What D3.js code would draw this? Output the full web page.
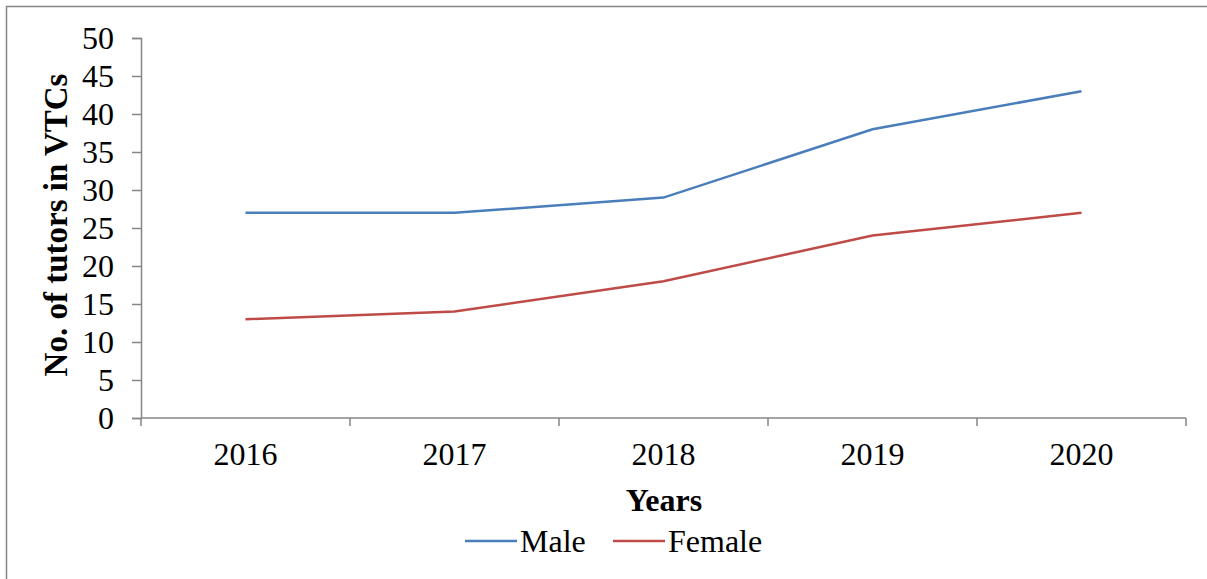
<!DOCTYPE html>
<html><head><meta charset="utf-8">
<script src="https://cdn.jsdelivr.net/npm/d3@7"></script>
<style>body{margin:0;background:#fff}svg{display:block}text{font-family:"Liberation Serif","Times New Roman",serif;fill:#000}</style>
</head><body>
<script>
const years = ["2016","2017","2018","2019","2020"];
const male = [27,27,29,38,43];
const female = [13,14,18,24,27];
const yTicks = [0,5,10,15,20,25,30,35,40,45,50];
const seriesNames = ["Male","Female"];
const colors = ["#4A7EBB","#BE4B48"];

const W=1207,H=579;
const svg=d3.select("body").append("svg").attr("width",W).attr("height",H);
// outer frame
svg.append("path").attr("d",`M6.5,${H+2}V6.5H${W+2}`).attr("fill","none").attr("stroke","#868686").attr("stroke-width",1.5);

const L=141,R=1186,T=38,B=418;
const x=d3.scaleBand().domain(years).range([L,R]);
const y=d3.scaleLinear().domain([0,50]).range([B,T]);
const axisColor="#868686";
const fs="32px";

// y axis
const ya=svg.append("g").attr("transform",`translate(${L},0)`)
  .call(d3.axisLeft(y).tickValues(yTicks).tickSize(9).tickPadding(18).tickFormat(d3.format("d")));
ya.select(".domain").attr("stroke",axisColor).attr("stroke-width",1.5);
ya.selectAll(".tick line").attr("stroke",axisColor).attr("stroke-width",1.5);
ya.selectAll(".tick text").style("font-size",fs).attr("dy","0.34em");

// x axis
const xa=svg.append("g").attr("transform",`translate(0,${B})`);
xa.append("line").attr("x1",L).attr("x2",R).attr("stroke",axisColor).attr("stroke-width",1.5);
const bounds=years.map(d=>x(d)).concat([x(years[years.length-1])+x.bandwidth()]);
xa.selectAll("line.tk").data(bounds).enter().append("line").attr("class","tk")
  .attr("x1",d=>d).attr("x2",d=>d).attr("y1",0).attr("y2",8).attr("stroke",axisColor).attr("stroke-width",1.5);
xa.selectAll("text").data(years).enter().append("text")
  .attr("x",d=>x(d)+x.bandwidth()/2).attr("y",47).attr("text-anchor","middle")
  .style("font-size",fs).text(d=>d);

// lines
const line=d3.line().x((d,i)=>x(years[i])+x.bandwidth()/2).y(d=>y(d));
[male,female].forEach((s,k)=>{
  svg.append("path").datum(s).attr("d",line).attr("fill","none")
    .attr("stroke",colors[k]).attr("stroke-width",2.5);
});

// titles
svg.append("text").attr("x",664).attr("y",511).attr("text-anchor","middle")
  .style("font-size",fs).style("font-weight","bold").text("Years");
svg.append("text").attr("transform","translate(67,225) rotate(-90)").attr("text-anchor","middle")
  .style("font-size","33px").style("font-weight","bold").text("No. of tutors in VTCs");

// legend
const legX=[465,613];
seriesNames.forEach((n,k)=>{
  svg.append("line").attr("x1",legX[k]).attr("x2",legX[k]+52).attr("y1",541).attr("y2",541)
    .attr("stroke",colors[k]).attr("stroke-width",2.5);
  svg.append("text").attr("x",legX[k]+55).attr("y",552).style("font-size",fs).text(n);
});
</script>
</body></html>
